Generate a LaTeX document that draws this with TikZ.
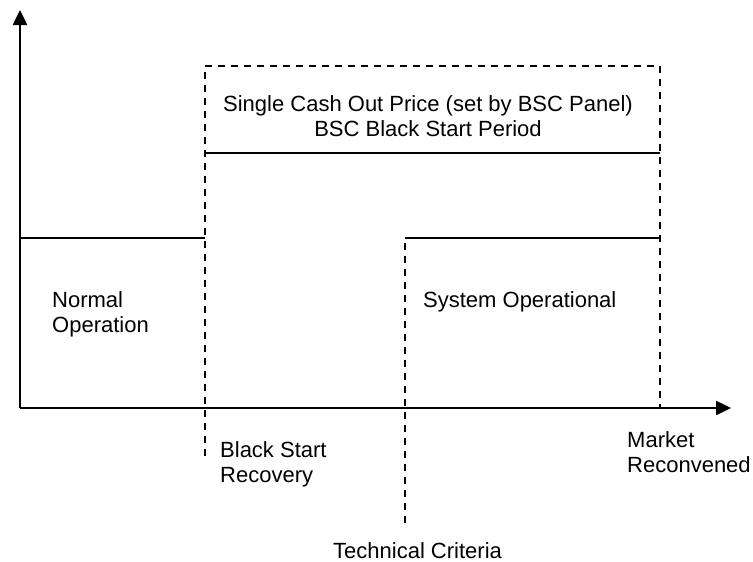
\documentclass[tikz,border=0pt]{standalone}
\usepackage{fontspec}
\setmainfont{Liberation Sans}
\usetikzlibrary{arrows.meta,positioning}
\tikzset{
axis/.style = {line width=2.5pt, -{Triangle[width=14pt,length=15pt]}},
level/.style = {line width=2pt},
period/.style = {line width=2pt, dash pattern=on 7pt off 6pt},
txt/.style = {inner sep=0pt, align=left, anchor=base west, font=\fontsize{22}{25}\selectfont}
}

\begin{document}
\begin{tikzpicture}[x=1pt, y=-1pt]
    \useasboundingbox (0,0) rectangle (753,562);
    % axes
    \coordinate (origin) at (20,408);
    \coordinate (ytop) at (20,10);
    \coordinate (xend) at (731,408);
    \draw [axis] (origin) -- (ytop);
    \draw [axis] (origin) -- (xend);
    % levels and periods
    \coordinate (normal left) at (20,238);
    \coordinate (normal right) at (205,238);
    \coordinate (bs top) at (205,66);
    \coordinate (bs bot) at (205,456);
    \coordinate (bs mid) at (205,153);
    \coordinate (mr top) at (660,66);
    \coordinate (mr mid) at (660,153);
    \coordinate (mr low) at (660,238);
    \coordinate (mr bot) at (660,408);
    \coordinate (tc top) at (405,238);
    \coordinate (tc bot) at (405,523);
    \draw [level] (normal left) -- (normal right);
    \draw [period] (bs bot) -- (bs top) -- (mr top) -- (mr bot);
    \draw [level] (bs mid) -- (mr mid);
    \draw [period] (tc bot) -- (tc top);
    \draw [level] (tc top) -- (mr low);
    % labels (base = last line)
    \node [txt] (normal) at (52,332) {Normal\\Operation};
    \node [txt, align=center, anchor=base] (price) at (428,136) {Single Cash Out Price (set by BSC Panel)\\BSC Black Start Period};
    \node [txt] (sysop) at (423,307) {System Operational};
    \node [txt] (recovery) at (220,482) {Black Start\\Recovery};
    \node [txt] (market) at (627,472) {Market\\Reconvened};
    \node [txt] (criteria) at (333,558) {Technical Criteria};
\end{tikzpicture}
\end{document}
